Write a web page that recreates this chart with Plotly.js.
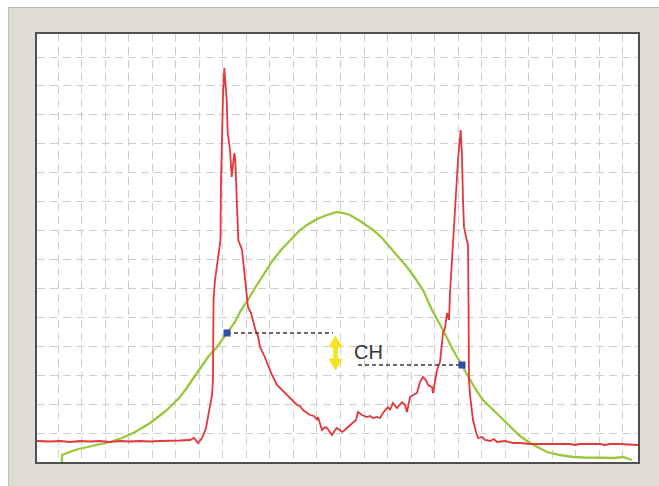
<!DOCTYPE html>
<html>
<head>
<meta charset="utf-8">
<script src="https://cdn.plot.ly/plotly-3.0.1.min.js"></script>
<style>html,body{margin:0;padding:0;background:#fff;}#chart{width:659px;height:486px;}</style>
</head>
<body>
<div id="chart"></div>
<script>
// Signal (red) trace, arbitrary units
const redX = [0,13,23,33,43,53,63,73,83,93,103,113,123,133,143,153,157,161,165,169,172,175,176,176.5,178,181,183.5,184,185,186,187.3,188.7,189.7,190.7,193,194.7,196,197.3,198.3,199.7,201.3,205,207,210,211,214,216,219,221,223,227,231,235,240,243,245,250,255,260,263,266,273,277,280,281,285,288,290,293,295,298,300,305,308,311,316,319,321,325,330,333,336,340,343,346,351,353,356,360,365,368,370,373,376,380,383,386,389,391,395,396,400,403,406,408,410,412,413,415,418,421,423.7,425,426,427,429,430,431,431.5,432,433,436,439,441,445,448,453,457,460,468,476,483,493,503,513,523,533,538,543,553,563,568,573,583,593,601];
const redY = [21,20.5,21,20,21,20.5,21,20,21,20.5,21,20.5,21,21,21.5,22,24,19,24,34,49,67,82,162,182,202,222,279,332,367,394,379,362,329,312,285,297,309,302,262,222,212,192,162,155,149,142,130,126,115,107,97,87,77,74,72,67,62,57,56,52,47,46,42,45,32,35,34,30,27,32,34,30,32,35,40,42,50,47,45,46,44,45,44,49,55,52,59,54,60,57,50,65,67,69,80,85,82,77,75,69,92,100,129,134,149,142,169,202,252,302,332,305,262,235,225,219,217,162,82,67,42,30,24,25,22,21,23,20,21,19,19,18,18,18,18,18,17,18,18,18,17,18,18,17.5,17];

// Reference (green) trace
const greenX = [25,25,30,38,46,58,73,85,96,105,113,121,130,137,143,149,155,163,171,180,185,190,198,204,211,218,225,236,244,253,263,270,280,290,300,306,313,323,336,345,353,363,370,378,386,395,406,415,425,433,439,446,453,460,468,476,483,493,501,510,523,536,548,563,578,586,595];
const greenY = [0,7,9,12,14,17,20,24,29,34,39,45,52,59,65,73,82,94,105,115,122,129,140,152,162,174,185,202,212,222,232,237,243,247,250,249,247,241,232,224,215,204,195,184,172,152,132,114,97,82,72,62,55,49,40,32,26,19,15,10,7,5,4.5,4,4,5,2];

// Marker points and CH level lines
const markX = [190, 425];
const markY = [129, 97];
const lvl1X = [190, 296], lvl1Y = [129, 129];
const lvl2X = [321, 425], lvl2Y = [97, 97];
const chLabel = 'CH';

const traces = [
  {x: greenX, y: greenY, mode: 'lines', line: {color: '#98c83a', width: 2.3}, hoverinfo: 'skip'},
  {x: redX, y: redY, mode: 'lines', line: {color: '#e4373a', width: 1.8}, hoverinfo: 'skip'},
  {x: lvl1X, y: lvl1Y, mode: 'lines', line: {color: '#3a3a3a', width: 1.5, dash: '4px,3px'}, hoverinfo: 'skip'},
  {x: lvl2X, y: lvl2Y, mode: 'lines', line: {color: '#3a3a3a', width: 1.5, dash: '4px,3px'}, hoverinfo: 'skip'},
  {x: markX, y: markY, mode: 'markers', marker: {symbol: 'square', size: 7, color: '#2b4fa6'}, hoverinfo: 'skip'}
];

const layout = {
  width: 659, height: 486,
  margin: {l: 37, r: 21, t: 34, b: 24},
  paper_bgcolor: '#dfdcd5',
  plot_bgcolor: '#ffffff',
  showlegend: false,
  font: {family: 'Liberation Sans, Arial, sans-serif', color: '#333'},
  xaxis: {range: [0, 601], tick0: 21, dtick: 23.54, showticklabels: false, ticks: '',
          showgrid: true, gridcolor: '#cdcdcd', gridwidth: 1, griddash: '8px,5px',
          zeroline: false, showline: true, mirror: true, linecolor: '#505050', linewidth: 1.6, fixedrange: true},
  yaxis: {range: [0, 428], tick0: 29, dtick: 28.92, showticklabels: false, ticks: '',
          showgrid: true, gridcolor: '#cdcdcd', gridwidth: 1, griddash: '8px,5px',
          zeroline: false, showline: true, mirror: true, linecolor: '#505050', linewidth: 1.6, fixedrange: true},
  shapes: [
    {type: 'rect', xref: 'paper', yref: 'paper', x0: -0.07, x1: 1.05, y0: 1.0631, y1: 1.09, fillcolor: '#ffffff', line: {width: 0}},
    {type: 'rect', xref: 'paper', yref: 'paper', x0: -0.07, x1: -0.0483, y0: -0.07, y1: 1.09, fillcolor: '#ffffff', line: {width: 0}},
    {type: 'line', xref: 'paper', yref: 'paper', x0: -0.0483, x1: 1.05, y0: 1.0619, y1: 1.0619, line: {color: '#b7b3ac', width: 1.2}},
    {type: 'line', xref: 'paper', yref: 'paper', x0: -0.0475, x1: -0.0475, y0: -0.07, y1: 1.0619, line: {color: '#c4c0b9', width: 1}},
    {type: 'path', xref: 'x', yref: 'y', layer: 'above',
     path: 'M 298.5,126 L 305,115 L 300.5,115 L 300.5,103 L 305,103 L 298.5,92 L 292,103 L 296.5,103 L 296.5,115 L 292,115 Z',
     fillcolor: '#f4e41c', line: {color: '#e8d400', width: 0.5}}
  ],
  annotations: [
    {x: 331, y: 110.5, xref: 'x', yref: 'y', text: chLabel, showarrow: false,
     font: {size: 20, color: '#333', family: 'Liberation Sans, Arial, sans-serif'}}
  ]
};

Plotly.newPlot('chart', traces, layout, {staticPlot: true, displayModeBar: false});
</script>
</body>
</html>
